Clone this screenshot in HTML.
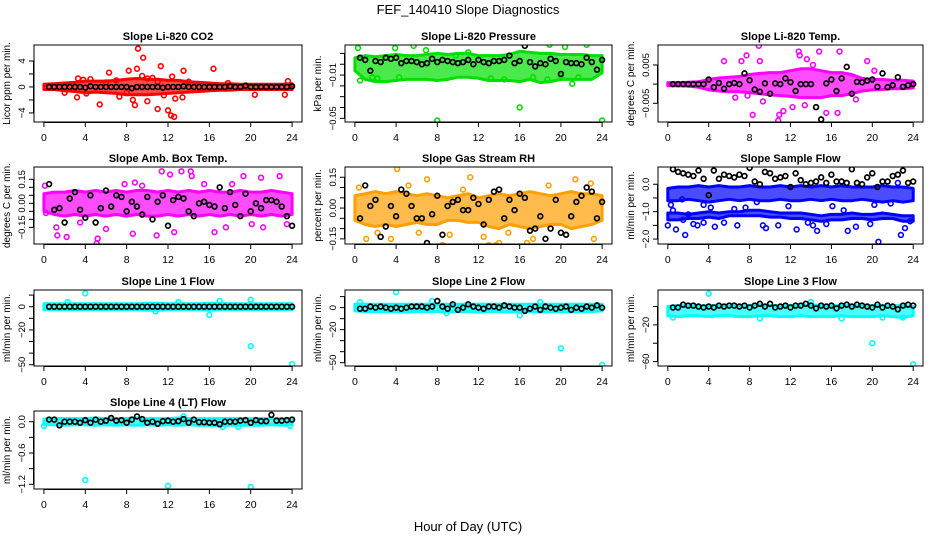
<!DOCTYPE html>
<html><head><meta charset="utf-8"><style>
body{margin:0;background:#fff;}
svg{display:block;font-family:"Liberation Sans",Arial,sans-serif;}
</style></head><body>
<svg id="chart" width="936" height="540" viewBox="0 0 936 540">
<text x="468" y="14" text-anchor="middle" font-size="13">FEF_140410  Slope Diagnostics</text>
<text x="468" y="531" text-anchor="middle" font-size="13">Hour of Day (UTC)</text>
</svg>
<script>
// ---- data ----
const xTicks = [0,4,8,12,16,20,24];
const envHours = [0,1,2,3,4,5,6,7,8,9,10,11,12,13,14,15,16,17,18,19,20,21,22,23,24];
const blkHours = [0.5,1,1.5,2,2.5,3,3.5,4,4.5,5,5.5,6,6.5,7,7.5,8,8.5,9,9.5,10,10.5,11,11.5,12,12.5,13,13.5,14,14.5,15,15.5,16,16.5,17,17.5,18,18.5,19,19.5,20,20.5,21,21.5,22,22.5,23,23.5,24];

const co2Hi = [0.4,0.5,0.6,0.7,0.9,0.9,0.9,1.0,1.2,1.3,1.2,1.2,1.0,1.0,0.8,0.7,0.6,0.5,0.5,0.4,0.4,0.4,0.4,0.4,0.5];
const co2Lo = [-0.4,-0.4,-0.6,-0.7,-0.9,-0.8,-0.9,-1.0,-1.2,-1.2,-1.2,-1.1,-1.0,-0.9,-0.8,-0.7,-0.6,-0.5,-0.5,-0.4,-0.4,-0.4,-0.4,-0.4,-0.4];
const co2Pts = [[3.3,1.3],[3.2,-1.6],[3.8,1.1],[4.5,1.2],[5.4,-2.7],[6.3,2.2],[7.3,-1.5],[8.2,2.5],[8.6,-2],[8.8,-2.8],[9,2.8],[9.1,5.9],[9.6,4.5],[9.5,1.7],[10,-2.2],[10.5,1.4],[11,-3.4],[11.3,3.2],[11.6,-1.3],[12,-3.6],[12.3,-4.4],[12.6,-4.6],[12.4,1.6],[12.7,-1.8],[13.5,2.5],[13.4,-1.6],[16.4,2.8],[20.4,-1.2],[23.3,-1.2],[23.6,0.9],[7,1],[10,1.3],[11,0.8],[14,0.8],[8,-0.9],[6,0.7],[2,-0.9],[17.8,0.6],[4.1,-1.0]];
const co2Blk = [0,0,0,0,0,0,0,-0.1,0.1,0,0,0,0,0,0,0,-0.2,0,0,0,0,0,-0.1,0,0,0,0.1,0,0,0,0,0,0,0,0,0.1,0,0,0.2,0,0,0,0,0,0,0,0,0.1];

const presHi = [0.006,0.008,0.007,0.008,0.009,0.008,0.008,0.009,0.010,0.009,0.010,0.010,0.008,0.008,0.008,0.009,0.012,0.011,0.010,0.010,0.009,0.009,0.009,0.008,0.008];
const presLo = [-0.006,-0.014,-0.016,-0.016,-0.015,-0.014,-0.014,-0.014,-0.015,-0.014,-0.012,-0.012,-0.013,-0.015,-0.015,-0.015,-0.016,-0.014,-0.017,-0.016,-0.014,-0.014,-0.014,-0.014,-0.008];
const presPts = [[0.3,0.015],[0.5,-0.015],[1.7,-0.012],[3.9,0.015],[4.3,-0.012],[5.7,0.017],[8,-0.052],[16,-0.04],[18.9,0.018],[18.7,-0.014],[21.1,-0.018],[20.4,0.016],[22.5,0.018],[24,-0.052],[9.8,0.008],[14.5,-0.014],[11,0.011],[2.2,-0.013],[6.9,0.013],[13.2,-0.013],[17.3,-0.012],[20,-0.011],[21.7,-0.012]];
const presBlk = [0.006,0.004,-0.006,0.003,0.002,0.006,0.005,0.006,0.001,0.003,0.003,0.002,0.000,0.001,0.005,0.002,0.004,0.003,0.002,0.001,0.002,0.004,0.000,0.004,0.002,0.001,0.003,0.003,0.004,0.008,0.001,0.003,0.017,0.002,-0.002,0.001,0.000,0.005,0.003,-0.009,0.002,0.001,0.001,0.000,0.006,0.002,-0.005,0.004];

const ltHi = [0.0004,0.0004,0.0005,0.0006,0.0012,0.0016,0.0018,0.002,0.0025,0.0028,0.003,0.003,0.0035,0.004,0.004,0.0035,0.003,0.003,0.0025,0.0015,0.0012,0.0012,0.001,0.001,0.0008];
const ltLo = [-0.0004,-0.0004,-0.0005,-0.0008,-0.0015,-0.0018,-0.002,-0.002,-0.0022,-0.0025,-0.0028,-0.003,-0.0032,-0.0035,-0.0035,-0.0035,-0.003,-0.003,-0.0025,-0.0018,-0.0015,-0.0014,-0.0012,-0.0012,-0.0010];
const ltPts = [[5.5,0.006],[7.2,0.006],[7.7,0.0075],[8.9,0.01],[9,0.006],[8.3,-0.008],[10.8,-0.0095],[11.3,-0.007],[12.2,-0.006],[12.8,0.0085],[12.9,0.0075],[13.6,0.0065],[14.8,0.0085],[15.5,-0.0075],[16.6,-0.0075],[16.8,0.0085],[19.5,0.006],[10.9,-0.008],[13.4,-0.0055],[9.3,-0.0045],[6.6,-0.0035],[7.8,-0.003],[14.2,0.005],[18.4,-0.004],[20.2,0.0035]];
const ltBlk = [0,0,0,0,0,0,0,0.0012,-0.0008,0.0003,-0.0012,0,0.0003,0,0.0028,0.001,-0.0014,-0.002,0.0002,-0.0025,0.0002,0,0.0015,0.0005,-0.0018,0,0,0,-0.006,-0.0092,0.0002,0.0012,-0.0018,0.0015,0.0045,-0.0025,0.0006,0.0005,0.0009,0.0012,-0.0007,0.0028,-0.0008,-0.0003,0.0018,-0.0007,-0.0003,0];

const abHi = [0.06,0.07,0.07,0.08,0.07,0.08,0.07,0.08,0.07,0.08,0.08,0.07,0.08,0.07,0.08,0.07,0.08,0.07,0.07,0.08,0.07,0.07,0.08,0.07,0.06];
const abLo = [-0.05,-0.07,-0.08,-0.07,-0.08,-0.07,-0.08,-0.07,-0.08,-0.07,-0.08,-0.08,-0.07,-0.08,-0.07,-0.08,-0.07,-0.08,-0.07,-0.08,-0.07,-0.08,-0.07,-0.08,-0.07];
const abPts = [[0.1,0.11],[0.2,-0.06],[1.3,-0.2],[2.2,-0.21],[1.2,-0.15],[5.2,-0.22],[5.1,-0.25],[6,-0.16],[8.6,-0.19],[8.8,0.13],[10.9,-0.2],[11.4,0.2],[12.2,0.18],[12.6,-0.18],[13.3,0.2],[14.2,0.2],[14.3,0.17],[16.5,-0.18],[17.6,-0.15],[19.3,0.17],[21,0.16],[21.2,-0.15],[22.8,0.17],[23.5,-0.13],[3.5,-0.12],[7.8,0.12],[9.5,0.11],[15.5,0.12],[18.2,0.12],[20.1,-0.13]];
const abBlk = [0.12,-0.04,-0.03,-0.12,0.03,0.07,-0.04,-0.09,0.05,-0.12,-0.03,0.08,-0.02,0.05,0.04,-0.05,0.01,-0.02,-0.07,0.04,-0.1,0.01,0.05,-0.14,0.02,0.04,0.03,-0.05,-0.08,0,0.01,-0.01,-0.02,0.1,-0.03,0.07,-0.01,-0.08,0.06,-0.05,0,-0.03,0.02,0.02,0.01,-0.02,-0.08,-0.14];

const rhHi = [0.06,0.07,0.08,0.07,0.08,0.07,0.06,0.07,0.06,0.05,0.06,0.07,0.05,0.06,0.07,0.06,0.07,0.08,0.07,0.06,0.07,0.08,0.07,0.07,0.06];
const rhLo = [-0.06,-0.08,-0.09,-0.08,-0.09,-0.08,-0.07,-0.08,-0.08,-0.06,-0.06,-0.07,-0.07,-0.09,-0.1,-0.08,-0.09,-0.1,-0.09,-0.08,-0.08,-0.1,-0.09,-0.08,-0.06];
const rhPts = [[0.4,0.1],[1.1,-0.15],[1.5,-0.19],[2.2,-0.12],[3.5,-0.15],[4.1,0.19],[5.2,0.11],[7,0.14],[8.5,-0.18],[11.2,0.15],[13,-0.18],[13.7,-0.18],[14,-0.17],[14.9,-0.12],[16.7,-0.17],[17.3,-0.15],[19,-0.22],[21.4,0.14],[22.9,0.12],[23.5,-0.2],[23.2,-0.15],[10.5,0.09],[12.5,-0.14],[18.8,0.11],[20.5,-0.13],[6.2,-0.12],[9.2,-0.13]];
const rhBlk = [-0.05,0.11,0.01,0.04,-0.14,-0.09,0.01,-0.04,0.09,0.07,0.01,-0.05,-0.05,-0.17,-0.03,0.06,-0.13,0.01,0.03,0.04,-0.01,-0.01,0.05,0.02,-0.08,0.04,0.08,0.09,-0.05,0.04,-0.01,0.07,0.05,-0.11,-0.1,-0.04,-0.15,-0.1,0.04,-0.12,-0.13,-0.04,0.03,0.06,0.1,0.08,-0.05,0.03];

const sfHi = [-0.15,-0.1,-0.1,-0.05,-0.1,-0.05,-0.1,-0.1,-0.05,-0.1,-0.1,-0.05,-0.1,-0.05,-0.1,-0.05,-0.1,-0.05,-0.1,-0.1,-0.1,-0.05,-0.1,-0.1,-0.15];
const sfLo = [-0.6,-0.6,-0.55,-0.6,-0.65,-0.6,-0.55,-0.6,-0.55,-0.6,-0.6,-0.55,-0.6,-0.6,-0.55,-0.6,-0.55,-0.6,-0.6,-0.55,-0.6,-0.65,-0.6,-0.65,-0.6];
const sf2Hi = [-1.05,-1.05,-1.1,-1.05,-1.0,-1.05,-1.0,-1.0,-0.95,-0.95,-1.0,-1.05,-1.05,-1.05,-1.1,-1.15,-1.1,-1.1,-1.05,-1.1,-1.1,-1.05,-1.1,-1.15,-1.15];
const sf2Lo = [-1.3,-1.3,-1.25,-1.25,-1.2,-1.25,-1.15,-1.15,-1.15,-1.15,-1.2,-1.2,-1.25,-1.25,-1.3,-1.35,-1.3,-1.3,-1.25,-1.25,-1.3,-1.25,-1.25,-1.35,-1.35];
const sfPts = [[0,-1.5],[0.3,-0.75],[0.8,-1.65],[1.5,-1.3],[1.7,-1.85],[2,-1.1],[2.9,-1.5],[3.5,-1.4],[4.6,-1.55],[5.5,-1.4],[6.8,-1.5],[9.3,-1.5],[9.6,-1.6],[10.8,-1.5],[12.6,-1.65],[13.7,-1.4],[14.6,-1.7],[15.5,-1.45],[17.6,-1.7],[18.4,-1.55],[19.8,-1.45],[20.6,-2.1],[22.8,-1.85],[23.2,-1.6],[23.7,-1.35],[1.4,-0.55],[3.5,-0.75],[8.7,-0.65],[16.1,-0.8],[20.2,-0.75],[22.5,0.05],[21.8,-0.7],[0.5,-0.95],[4.2,-0.85],[6.5,-0.9],[11.8,-0.8],[17.2,-0.95],[2.5,-1.45],[7.6,-0.85],[14.2,-1.5]];
const sfBlk = [0.55,0.45,0.4,0.35,0.3,0.5,0.2,-0.4,0.5,0.2,0.35,0.3,0.25,0.35,0.3,0.6,0.1,0.0,0.45,0.4,0.2,0.25,0.3,-0.1,0.4,0.15,0.0,0.05,0.1,0.25,0.05,0.35,0.1,0.1,0.05,0.55,0.05,0.0,0.25,0.4,-0.1,0.1,0.1,0.3,0.35,0.5,0.05,0.1];

const l1Hi = [2.5,2.5,2.5,2.5,2.5,2.5,2.5,2.5,2.5,2.5,3,3,2.5,2.5,2.5,2.5,3,3,2.5,2.5,2.5,2.5,2.5,2.5,2.5];
const l1Lo = [-2.5,-2.5,-2.5,-2.5,-2.5,-2.5,-2.5,-2.5,-2.5,-2.5,-3,-3,-2.5,-2.5,-2.5,-2.5,-3,-2.5,-2.5,-2.5,-2.5,-2.5,-2.5,-2.5,-2.5];
const l1Pts = [[4,11.5],[20,-34],[24,-49.5],[16,-7],[20,6],[10.8,-4],[2.3,4],[13,4],[17,5]];
const l1Blk = [0,0,0,0,0,0,0,0,0,0,0,0,0,0,0,0,0,0,0,0,0,0,0,0,0,0,0,0,0,0,0,0,0,0,0,0,0,0,0,0,0,0,0,0,0,0,0,0];

const l2Hi = [3,3,3,3,3,3,3,3,3,3,3,3,3,3,3,3,3,3,3,3,3,3,3,3,3];
const l2Lo = [-3,-3.5,-3.5,-3.5,-3.5,-4,-3.5,-3.5,-3.5,-4,-3.5,-3.5,-4,-3.5,-3.5,-4,-3.5,-3.5,-4,-3.5,-3.5,-4,-3.5,-3.5,-3];
const l2Pts = [[4,14],[20,-37],[24,-52],[16,-7],[0.5,5],[7.5,6],[8.9,-5],[18,5]];
const l2Blk = [-1,-1,1,0,1,0,-1,0,-1,0,1,1,1,0,1,6,1,-1,3,-2,0,3,1,0,-1,1,1,0,2,1,0,0,-3,-1,1,-2,1,0,-1,0,1,-2,0,-1,1,0,2,0];

const l3Hi = [0,1,1,1,1,1,1,1,1,2,1,1,1,1,2,1,1,1,1,1,1,1,1,1,0];
const l3Lo = [-10,-11,-10,-10,-11,-10,-10,-11,-11,-10,-10,-11,-11,-10,-11,-11,-11,-10,-11,-11,-11,-10,-11,-12,-10];
const l3Pts = [[4,14],[20,-40],[24,-63],[0.5,-12],[14,5],[17,-13],[21,-12],[23,-12],[9,-13]];
const l3Blk = [-1,-1,2,1,1,0,-1,0,-1,1,0,1,1,0,1,-1,1,3,0,3,-1,0,1,-1,1,1,3,1,-2,1,0,1,-2,1,2,0,2,1,0,-1,2,-1,1,0,-3,1,2,1];

const l4Hi = [0.05,0.06,0.06,0.06,0.06,0.07,0.06,0.06,0.06,0.07,0.06,0.06,0.06,0.07,0.06,0.06,0.06,0.06,0.06,0.06,0.06,0.06,0.06,0.06,0.05];
const l4Lo = [-0.06,-0.06,-0.07,-0.06,-0.06,-0.07,-0.06,-0.07,-0.06,-0.07,-0.06,-0.07,-0.06,-0.07,-0.06,-0.07,-0.07,-0.08,-0.07,-0.07,-0.07,-0.07,-0.06,-0.07,-0.06];
const l4Pts = [[4,-1.12],[12,-1.23],[20,-1.25],[0,-0.08],[17.3,-0.1],[23.8,-0.08],[13.5,0.1],[18.8,-0.1]];
const l4Blk = [0.04,0.04,-0.07,0,0,0,-0.02,0.03,-0.02,0.04,0,0.02,0.07,0.02,0.03,-0.02,0.04,0.1,0.05,-0.02,0,-0.04,0.01,0.02,0,0.01,0.05,-0.02,0.04,-0.01,-0.01,-0.02,-0.02,-0.05,0,0,0,0.02,0.03,-0.02,0.03,0.01,0.01,0.13,0.02,0.02,0.03,0.04];

// ---- layout (not data) ----
const colL=[34,345,658], colR=[302,612,923];
const rowT=[45,167,290,411], rowB=[122,244,366,489];
const panels=[
 {c:0,r:0,name:'co2',title:'Slope Li-820 CO2',ylab:'Licor ppm per min.',ylim:[-5.4,6.46],ticks:[-4,-2,0,2,4],labels:{'-4':'-4','0':'0','4':'4'},col:'#ff0000',bands:[[co2Lo,co2Hi]],pts:co2Pts,blk:co2Blk},
 {c:1,r:0,name:'pressure',title:'Slope Li-820 Pressure',ylab:'kPa per min.',ylim:[-0.0534,0.0178],ticks:[0.01,0,-0.01,-0.02,-0.03,-0.04,-0.05],labels:{'-0.01':'-0.01','-0.05':'-0.05'},col:'#00e000',bands:[[presLo,presHi]],pts:presPts,blk:presBlk},
 {c:2,r:0,name:'li820-temp',title:'Slope Li-820 Temp.',ylab:'degrees C per min.',ylim:[-0.00987,0.0102],ticks:[0.005,0,-0.005],labels:{'0.005':'0.005','-0.005':'-0.005'},col:'#ff00ff',bands:[[ltLo,ltHi]],pts:ltPts,blk:ltBlk},
 {c:0,r:1,name:'amb-box-temp',title:'Slope Amb. Box Temp.',ylab:'degrees C per min.',ylim:[-0.254,0.227],ticks:[0.15,0.1,0.05,0,-0.05,-0.1,-0.15],labels:{'0.15':'0.15','0':'0.00','-0.15':'-0.15'},col:'#ff00ff',bands:[[abLo,abHi]],pts:abPts,blk:abBlk},
 {c:1,r:1,name:'gas-stream-rh',title:'Slope Gas Stream RH',ylab:'percent per min.',ylim:[-0.175,0.2],ticks:[0.15,0.1,0.05,0,-0.05,-0.1,-0.15],labels:{'0.15':'0.15','0':'0.00','-0.15':'-0.15'},col:'#ffa000',bands:[[rhLo,rhHi]],pts:rhPts,blk:rhBlk},
 {c:2,r:1,name:'sample-flow',title:'Slope Sample Flow',ylab:'ml/min per min.',ylim:[-2.18,0.63],ticks:[0,-0.5,-1,-1.5,-2],labels:{'0':'0.0','-1':'-1.0','-2':'-2.0'},col:'#0000ff',bands:[[sfLo,sfHi],[sf2Lo,sf2Hi]],pts:sfPts,blk:sfBlk},
 {c:0,r:2,name:'line1-flow',title:'Slope Line 1 Flow',ylab:'ml/min per min.',ylim:[-51.1,14.4],ticks:[10,0,-10,-20,-30,-40,-50],labels:{'0':'0','-20':'-20','-50':'-50'},col:'#00ffff',bands:[[l1Lo,l1Hi]],pts:l1Pts,blk:l1Blk},
 {c:1,r:2,name:'line2-flow',title:'Slope Line 2 Flow',ylab:'ml/min per min.',ylim:[-53,16],ticks:[10,0,-10,-20,-30,-40,-50],labels:{'0':'0','-20':'-20','-50':'-50'},col:'#00ffff',bands:[[l2Lo,l2Hi]],pts:l2Pts,blk:l2Blk},
 {c:2,r:2,name:'line3-flow',title:'Slope Line 3 Flow',ylab:'ml/min per min.',ylim:[-64.8,18],ticks:[0,-20,-40,-60],labels:{'-20':'-20','-60':'-60'},col:'#00ffff',bands:[[l3Lo,l3Hi]],pts:l3Pts,blk:l3Blk},
 {c:0,r:3,name:'line4-flow',title:'Slope Line 4 (LT) Flow',ylab:'ml/min per min.',ylim:[-1.29,0.205],ticks:[0,-0.3,-0.6,-0.9,-1.2],labels:{'0':'0.0','-0.6':'-0.6','-1.2':'-1.2'},col:'#00ffff',bands:[[l4Lo,l4Hi]],pts:l4Pts,blk:l4Blk}
];
const NS='http://www.w3.org/2000/svg';
const svg=document.getElementById('chart');
function mk(tag,attrs,parent){const e=document.createElementNS(NS,tag);for(const k in attrs)e.setAttribute(k,attrs[k]);(parent||svg).appendChild(e);return e;}
panels.forEach(p=>{
 const L=colL[p.c],R=colR[p.c],T=rowT[p.r],B=rowB[p.r];
 const xs=t=>L+(t+0.96)/25.92*(R-L);
 const ys=v=>B-(v-p.ylim[0])/(p.ylim[1]-p.ylim[0])*(B-T);
 const g=mk('g',{});
 
 
 const cp=mk('clipPath',{id:'cp-'+p.name},g);
 mk('rect',{x:L,y:T,width:R-L,height:B-T},cp);
 const plot=mk('g',{'clip-path':'url(#cp-'+p.name+')'},g);
 p.bands.forEach(([lo,hi])=>{
  let d='M'+envHours.map((h,i)=>xs(h).toFixed(1)+','+ys(hi[i]).toFixed(1)).join('L');
  for(let i=envHours.length-1;i>=0;i--)d+='L'+xs(envHours[i]).toFixed(1)+','+ys(lo[i]).toFixed(1);
  const band=mk('path',{d:d+'Z',fill:p.col,'fill-opacity':0.7,stroke:p.col,'stroke-width':3,'stroke-linejoin':'round'},plot);
  
  
 });
 p.pts.forEach(([t,v])=>{
  const c=mk('circle',{cx:xs(t),cy:ys(v),r:2.4,fill:'none',stroke:p.col,'stroke-width':1.6},plot);
  
  
 });
 p.blk.forEach((v,i)=>{
  const c=mk('circle',{cx:xs(blkHours[i]),cy:ys(v),r:2.4,fill:'none',stroke:'#000','stroke-width':1.7},plot);
  
  
 });
 const box=mk('rect',{x:L,y:T,width:R-L,height:B-T,fill:'none',stroke:'#000','stroke-width':1},g);
 
 
 const ti=mk('text',{x:(L+R)/2,y:T-5,'text-anchor':'middle','font-size':11,'font-weight':'bold'},g);
 ti.textContent=p.title;
 
 
 mk('line',{x1:xs(0),x2:xs(24),y1:B+0.5,y2:B+0.5,stroke:'#000'},g);
 xTicks.forEach(t=>{
  mk('line',{x1:xs(t),x2:xs(t),y1:B,y2:B+5,stroke:'#000'},g);
  const tx=mk('text',{x:xs(t),y:B+19,'text-anchor':'middle','font-size':10.5},g);
  tx.textContent=t;
  
  
 });
 const y0=ys(p.ticks[0]),y1=ys(p.ticks[p.ticks.length-1]);
 mk('line',{x1:L-0.5,x2:L-0.5,y1:y0,y2:y1,stroke:'#000'},g);
 p.ticks.forEach(v=>{
  const y=ys(v);
  mk('line',{x1:L-5,x2:L,y1:y,y2:y,stroke:'#000'},g);
  const lab=p.labels[String(v)];
  if(lab!==undefined){
   const tx=mk('text',{x:0,y:0,'text-anchor':'middle','font-size':9.5,transform:'translate('+(L-9)+','+y+') rotate(-90)'},g);
   tx.textContent=lab.replace('-','\u2212');
   
   
  }
 });
 const yl=mk('text',{x:0,y:0,'text-anchor':'middle','font-size':10,transform:'translate('+(L-24)+','+((T+B)/2)+') rotate(-90)'},g);
 yl.textContent=p.ylab;
 
 
});
</script>
</body></html>
